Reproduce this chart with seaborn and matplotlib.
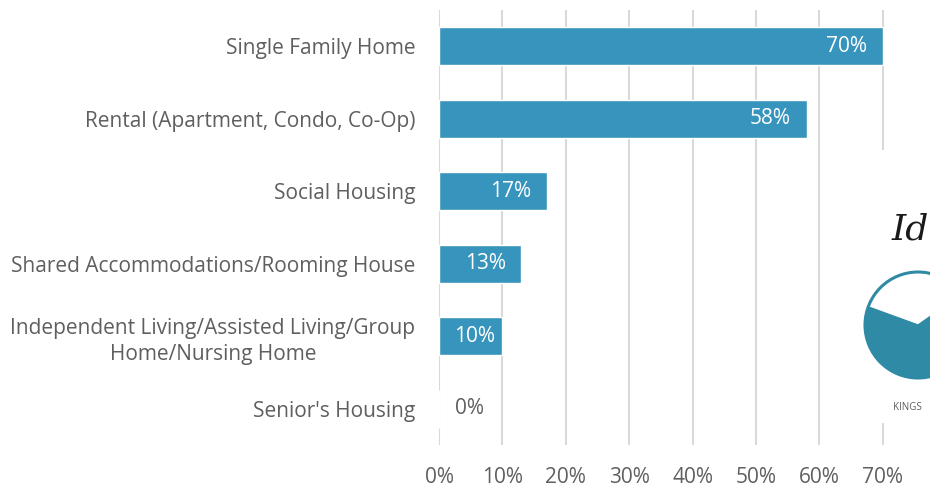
import matplotlib
matplotlib.use("Agg")
import matplotlib.pyplot as plt
from matplotlib.patches import Circle, Wedge, Rectangle
from matplotlib.ticker import FuncFormatter
import seaborn as sns
import pandas as pd

# data
categories = [
    "Single Family Home",
    "Rental (Apartment, Condo, Co-Op)",
    "Social Housing",
    "Shared Accommodations/Rooming House",
    "Independent Living/Assisted Living/Group\nHome/Nursing Home",
    "Senior's Housing",
]
shares = [70, 58, 17, 13, 10, 0]
x_ticks = [0, 10, 20, 30, 40, 50, 60, 70]

df = pd.DataFrame({"category": categories, "share": shares})

sns.set_theme(style="white")
plt.rcParams["font.family"] = ["Open Sans", "DejaVu Sans"]

BAR = "#3795bd"
GREY = "#5f5f5f"
GRID = "#d9d9d9"
FS = 15

fig = plt.figure(figsize=(9.3, 4.91), dpi=100)
ax = fig.add_axes([439 / 930, 1 - 445 / 491, 1 - 439 / 930, 435 / 491])

sns.barplot(data=df, y="category", x="share", orient="h", color=BAR,
            width=0.53, saturation=1, ax=ax, zorder=3)

ax.set_xlim(0, (930 - 439) / 63.4 * 10)
ax.set_xticks(x_ticks)
ax.xaxis.set_major_formatter(FuncFormatter(lambda v, p: f"{int(v)}%"))
ax.grid(axis="x", color=GRID, linewidth=1.5, zorder=0)
ax.set_axisbelow(True)
for s in ax.spines.values():
    s.set_visible(False)
ax.set_xlabel("")
ax.set_ylabel("")
ax.tick_params(axis="x", length=0, pad=16, labelsize=FS, labelcolor=GREY)
ax.tick_params(axis="y", length=0, pad=17, labelsize=FS, labelcolor=GREY)
for lab in ax.get_yticklabels():
    lab.set_multialignment("center")
    lab.set_linespacing(1.35)

# value labels (inside end, kept clear of the bar start)
for i, v in enumerate(shares):
    if v >= 5:
        ax.text(max(v - 2.5, 8.9), i, f"{v}%", ha="right", va="center",
                color="white", fontsize=FS, zorder=4)
    else:
        ax.text(v + 2.5, i, f"{v}%", ha="left", va="center",
                color=GREY, fontsize=FS, zorder=4)

# partial logo sitting on the right edge (pixel coordinates, y down)
lax = fig.add_axes([850 / 930, 1 - 423 / 491, 80 / 930, 273 / 491])
lax.set_xlim(850, 930)
lax.set_ylim(423, 150)
lax.axis("off")
lax.add_patch(Rectangle((850, 150), 80, 273, color="white"))
TEAL = "#2f8aa6"
lax.add_patch(Wedge((918, 325), 53, -35, 200, color=TEAL))
lax.add_patch(Circle((918, 325), 53, fill=False, edgecolor=TEAL, linewidth=2.2))
lax.text(929, 230, "Id", fontsize=26, family="DejaVu Serif", style="italic",
         color="#1a1a1a", va="center", ha="right")
lax.text(893, 408, "KINGS", fontsize=7, color=GREY, va="center", ha="left")

fig.savefig("out.png", dpi=100)
